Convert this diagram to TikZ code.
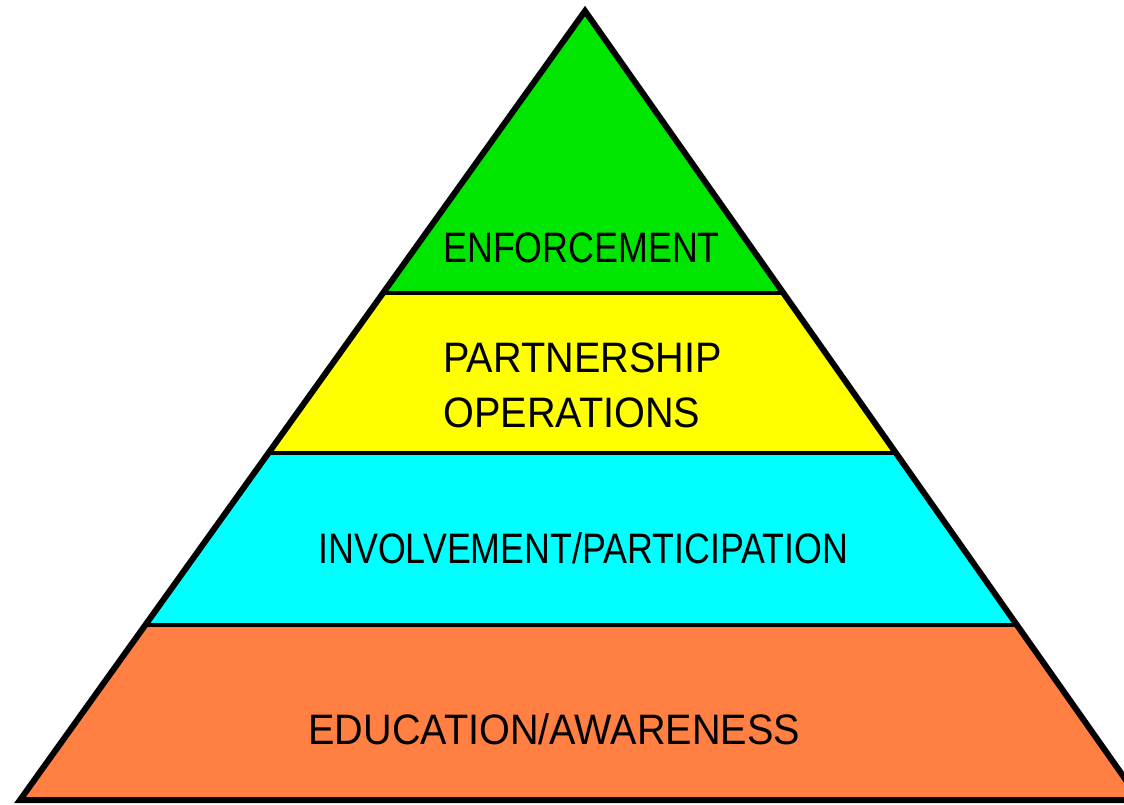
\documentclass[tikz,border=0pt]{standalone}
\usepackage{fontspec}
\setmainfont{Liberation Sans}
\newfontfamily\tierfont{Liberation Sans}[FakeStretch=0.84]
\newfontfamily\widetierfont{Liberation Sans}[FakeStretch=0.93]
\usepackage{xcolor}
\usetikzlibrary{calc}
\definecolor{enfgreen}{RGB}{0,230,0}
\definecolor{partyellow}{RGB}{255,255,0}
\definecolor{involcyan}{RGB}{0,255,255}
\definecolor{eduorange}{RGB}{255,128,66}

\begin{document}
\begin{tikzpicture}[x=0.5pt,y=-0.5pt,
    tiertext/.style={inner sep=0pt,font=\tierfont\fontsize{21.3}{27.5}\selectfont},
    widetiertext/.style={inner sep=0pt,font=\widetierfont\fontsize{21.3}{27.5}\selectfont}]
    \useasboundingbox (0,0) rectangle (1124,804);
    % Corners
    \coordinate (apex) at (585,11);
    \coordinate (bl) at (20,800);
    \coordinate (br) at (1140,800);
    % Tier edges
    \coordinate (l1) at ($(apex)!0.3574!(bl)$);
    \coordinate (r1) at ($(apex)!0.3574!(br)$);
    \coordinate (l2) at ($(apex)!0.5602!(bl)$);
    \coordinate (r2) at ($(apex)!0.5602!(br)$);
    \coordinate (l3) at ($(apex)!0.7782!(bl)$);
    \coordinate (r3) at ($(apex)!0.7782!(br)$);
    % Tiers
    \fill[enfgreen] (apex) -- (l1) -- (r1) -- cycle;
    \fill[partyellow] (l1) -- (l2) -- (r2) -- (r1) -- cycle;
    \fill[involcyan] (l2) -- (l3) -- (r3) -- (r2) -- cycle;
    \fill[eduorange] (l3) -- (bl) -- (br) -- (r3) -- cycle;
    % Dividers
    \draw[line width=2pt] (l1) -- (r1);
    \draw[line width=2pt] (l2) -- (r2);
    \draw[line width=2pt] (l3) -- (r3);
    % Triangle
    \draw[line width=3pt] (apex) -- (bl) -- (br) -- cycle;
    % Labels
    \node[tiertext,anchor=base west] (enforce) at (443,262) {ENFORCEMENT};
    \node[widetiertext,anchor=north west,align=left] (partner) at (443,342) {PARTNERSHIP\\OPERATIONS};
    \node[tiertext,anchor=base west] (involve) at (318,563) {INVOLVEMENT/PARTICIPATION};
    \node[widetiertext,anchor=base west] (educate) at (308,744) {EDUCATION/AWARENESS};
\end{tikzpicture}
\end{document}
